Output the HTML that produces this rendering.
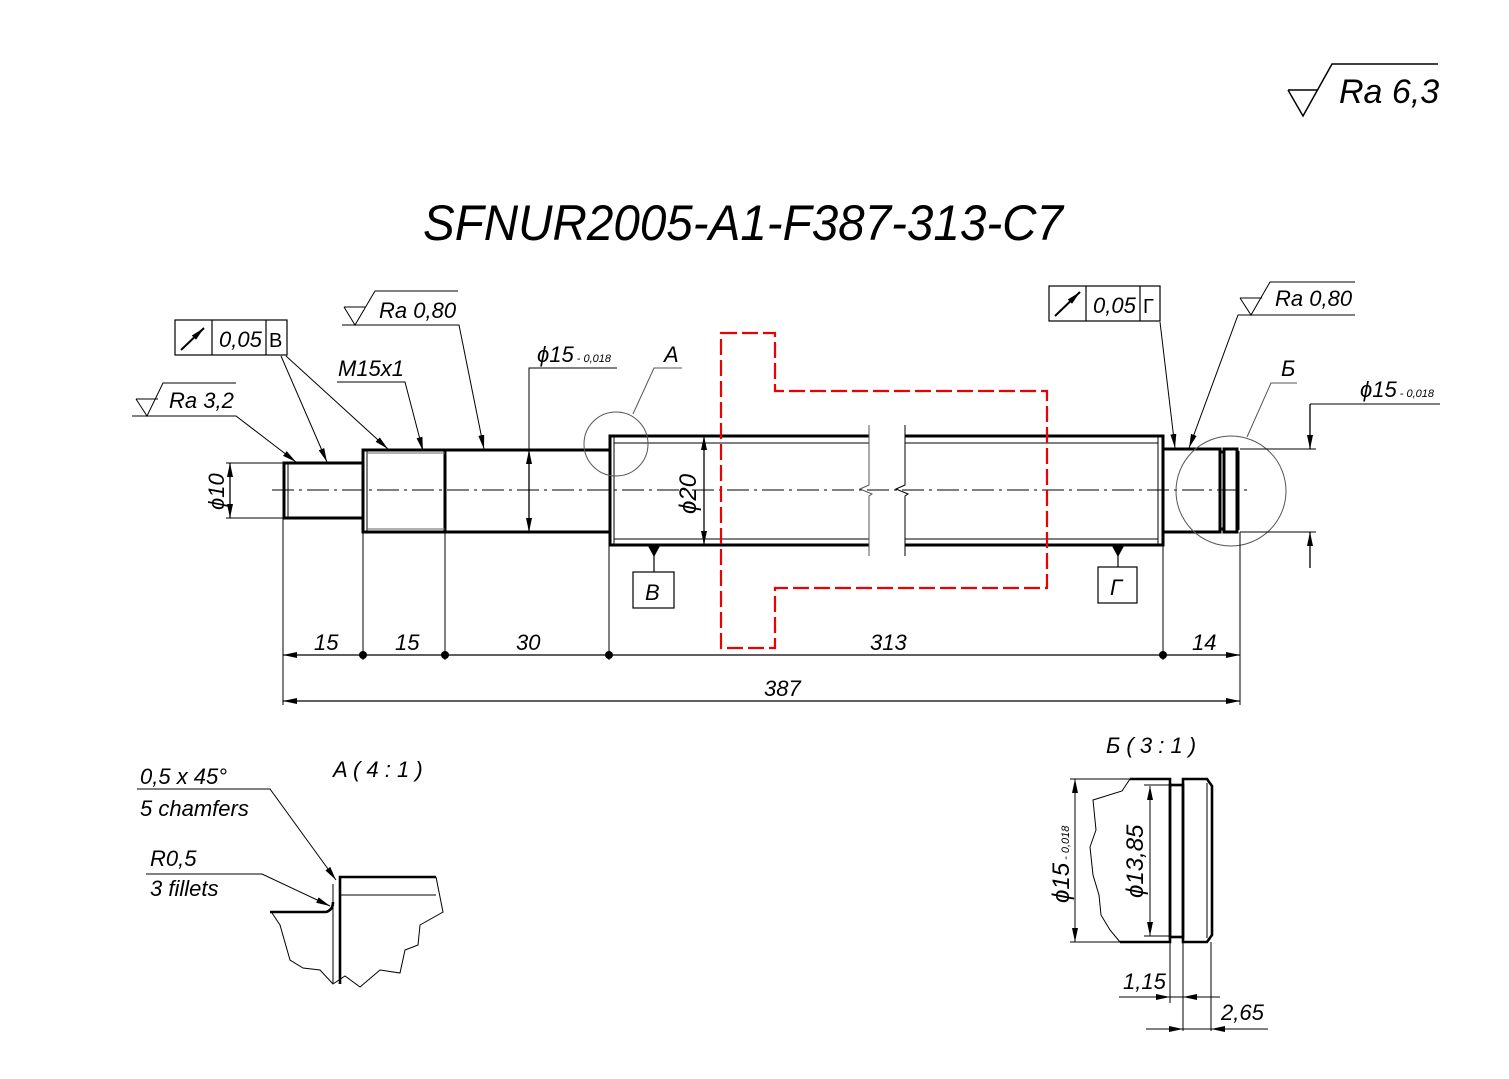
<!DOCTYPE html>
<html><head><meta charset="utf-8"><style>
html,body{margin:0;padding:0;background:#fff}
svg{display:block}
text{font-family:"Liberation Sans","DejaVu Sans",sans-serif;font-style:italic;fill:#000}
</style></head><body>
<svg width="1509" height="1079" viewBox="0 0 1509 1079" xmlns="http://www.w3.org/2000/svg">
<defs>
<marker id="ar" viewBox="0 0 14 6" refX="14" refY="3" markerWidth="14" markerHeight="6" orient="auto-start-reverse" markerUnits="userSpaceOnUse"><path d="M0,0L14,3L0,6Z" fill="#000"/></marker>
</defs>
<rect width="1509" height="1079" fill="#fff"/>

<g fill="none" stroke="#000" stroke-width="1.5">
<path d="M1288,90 L1318,90 M1288,90 L1303,116 L1332,64 L1438,64"/>
</g>
<text x="1339" y="103" font-size="34">Ra 6,3</text>

<text x="423" y="240" font-size="50" textLength="640" lengthAdjust="spacingAndGlyphs">SFNUR2005-A1-F387-313-C7</text>

<line x1="272" y1="490" x2="1250" y2="490" stroke="#000" stroke-width="1" stroke-dasharray="22,5,3,5"/>

<g fill="none" stroke="#000" stroke-width="3">
<rect x="284" y="463" width="79" height="55"/>
<rect x="363" y="450" width="82" height="82"/>
<rect x="445" y="450" width="165" height="82"/>
<path d="M869,436 L610,436 L610,545 L869,545"/>
<path d="M905,436 L1163,436 L1163,545 L905,545"/>
<rect x="1163" y="449" width="57" height="83"/>
<rect x="1220" y="452" width="4" height="77"/>
<rect x="1224" y="449" width="13" height="83"/>
</g>
<g fill="none" stroke="#000" stroke-width="1">
<line x1="288" y1="463" x2="288" y2="518"/>
<line x1="367" y1="450" x2="367" y2="532"/>
<line x1="367" y1="453" x2="445" y2="453" stroke="#666"/>
<line x1="367" y1="529" x2="445" y2="529" stroke="#666"/>
<line x1="614" y1="436" x2="614" y2="545"/>
<line x1="614" y1="443" x2="869" y2="443"/>
<line x1="614" y1="539" x2="869" y2="539"/>
<line x1="905" y1="443" x2="1158" y2="443"/>
<line x1="905" y1="539" x2="1158" y2="539"/>
<line x1="1158" y1="436" x2="1158" y2="545"/>
<line x1="1239" y1="451" x2="1239" y2="530"/>
<path d="M869,425 L869,485 L860,489 L872,494 L869,496 L869,556" stroke="#555"/>
<path d="M905,425 L905,485 L896,489 L908,494 L905,496 L905,556"/>
<circle cx="616" cy="444" r="32" stroke="#555"/>
<circle cx="1231" cy="491" r="55" stroke="#555"/>
</g>

<path d="M721,333 L775,333 L775,391 L1047,391 L1047,588 L775,588 L775,648 L721,648 Z" fill="none" stroke="#e00" stroke-width="2.2" stroke-dasharray="16,5"/>

<g stroke="#000" stroke-width="1">
<line x1="283" y1="518" x2="283" y2="705"/>
<line x1="363" y1="532" x2="363" y2="660"/>
<line x1="445" y1="532" x2="445" y2="660"/>
<line x1="609" y1="545" x2="609" y2="660"/>
<line x1="1163" y1="545" x2="1163" y2="660"/>
<line x1="1240" y1="532" x2="1240" y2="705"/>
<line x1="226" y1="463" x2="284" y2="463"/>
<line x1="226" y1="518" x2="284" y2="518"/>
<line x1="1240" y1="449" x2="1316" y2="449"/>
<line x1="1240" y1="532" x2="1316" y2="532"/>
</g>
<g stroke="#000" stroke-width="1.3" fill="none">
<line x1="283" y1="655" x2="1240" y2="655" marker-start="url(#ar)" marker-end="url(#ar)"/>
<line x1="283" y1="701" x2="1240" y2="701" marker-start="url(#ar)" marker-end="url(#ar)"/>
<line x1="230" y1="463" x2="230" y2="518" marker-start="url(#ar)" marker-end="url(#ar)"/>
<line x1="529" y1="450" x2="529" y2="532" marker-start="url(#ar)" marker-end="url(#ar)"/>
<polyline points="529,450 529,368 617,368" stroke-width="1"/>
<line x1="704" y1="436" x2="704" y2="545" marker-start="url(#ar)" marker-end="url(#ar)"/>
<line x1="1310" y1="404" x2="1310" y2="449" marker-end="url(#ar)"/>
<line x1="1310" y1="568" x2="1310" y2="532" marker-end="url(#ar)"/>
<line x1="1310" y1="404" x2="1440" y2="404" stroke-width="1"/>
</g>
<g fill="#000"><circle cx="363" cy="655" r="4"/><circle cx="445" cy="655" r="4"/><circle cx="609" cy="655" r="4"/><circle cx="1163" cy="655" r="4"/></g>
<g font-size="22">
<text x="314" y="650">15</text><text x="395" y="650">15</text><text x="516" y="650">30</text>
<text x="870" y="650">313</text><text x="1192" y="650">14</text><text x="764" y="696">387</text>
<text x="537" y="362">ϕ15<tspan font-size="11"> - 0,018</tspan></text>
<text x="1360" y="397">ϕ15<tspan font-size="11"> - 0,018</tspan></text>
<text transform="translate(224,510) rotate(-90)">ϕ10</text>
<text transform="translate(696,514) rotate(-90)" font-size="24">ϕ20</text>
<text x="664" y="362">A</text>
<text x="1281" y="376">Б</text>
<text x="338" y="376">M15x1</text>
</g>

<g fill="none" stroke="#000" stroke-width="1.2">
<line x1="654" y1="545" x2="654" y2="572"/><rect x="633" y="572" width="41" height="36"/>
<line x1="1118" y1="545" x2="1118" y2="567"/><rect x="1098" y="567" width="39" height="36"/>
</g>
<path d="M648,546 L660,546 L654,557Z M1112,546 L1124,546 L1118,557Z" fill="#000"/>
<text x="645" y="600" font-size="22">B</text>
<text x="1110" y="595" font-size="22">Г</text>

<g fill="none" stroke="#000" stroke-width="1.2">
<rect x="175" y="320" width="112" height="35"/><line x1="212" y1="320" x2="212" y2="355"/><line x1="266" y1="320" x2="266" y2="355"/>
<rect x="1049" y="286" width="111" height="35"/><line x1="1086" y1="286" x2="1086" y2="321"/><line x1="1140" y1="286" x2="1140" y2="321"/>
<line x1="181" y1="350" x2="204" y2="328" stroke-width="2" marker-end="url(#ar)"/>
<line x1="1055" y1="316" x2="1080" y2="292" stroke-width="2" marker-end="url(#ar)"/>
</g>
<text x="219" y="347" font-size="22">0,05</text><text x="269" y="347" font-size="20" style="font-style:normal">B</text>
<text x="1093" y="313" font-size="22">0,05</text><text x="1143" y="313" font-size="20" style="font-style:normal">Г</text>

<g fill="none" stroke="#000" stroke-width="1">
<line x1="281" y1="356" x2="327" y2="462" marker-end="url(#ar)"/>
<line x1="286" y1="356" x2="388" y2="449" marker-end="url(#ar)"/>
<line x1="1160" y1="322" x2="1175" y2="448" marker-end="url(#ar)"/>
<path d="M136,399 L158,399 M136,399 L147,416 L163,383 L236,383 M132,416 L236,416 L296,462" marker-end="url(#ar)"/>
<path d="M344,307 L366,307 M344,307 L355,325 L375,291 L458,291 M342,325 L459,325 L484,449" marker-end="url(#ar)"/>
<polyline points="337,382 405,382 423,451" marker-end="url(#ar)"/>
<path d="M1240,298 L1262,298 M1240,298 L1251,315 L1270,282 L1355,282 M1355,315 L1238,315 L1189,448" marker-end="url(#ar)"/>
<polyline points="633,414 654,368 682,368" stroke="#555"/>
<polyline points="1247,437 1271,383 1297,383" stroke="#555"/>
</g>
<text x="379" y="318" font-size="22">Ra 0,80</text>
<text x="169" y="408" font-size="22">Ra 3,2</text>
<text x="1275" y="306" font-size="22">Ra 0,80</text>

<text x="333" y="777" font-size="22">A ( 4 : 1 )</text>
<text x="140" y="784" font-size="22">0,5 x 45°</text>
<text x="140" y="816" font-size="22">5 chamfers</text>
<text x="150" y="866" font-size="22">R0,5</text>
<text x="150" y="896" font-size="22">3 fillets</text>
<g fill="none" stroke="#000" stroke-width="1">
<polyline points="137,789 270,789 336,880" marker-end="url(#ar)"/>
<polyline points="146,874 262,874 330,906" marker-end="url(#ar)"/>
<line x1="340" y1="895" x2="436" y2="895"/>
<path d="M333,884 L333,983"/>
<path d="M272,913 L280,925 L290,960 L303,968 L320,970 L333,984 L345,976 L360,987 L380,970 L400,973 L405,950 L418,945 L420,925 L443,912 L436,877"/>
</g>
<g fill="none" stroke="#000" stroke-width="2.6">
<path d="M436,877 L340,877 L340,984"/>
<path d="M270,912 L326,912 Q333,910 333,902"/>
</g>

<text x="1106" y="753" font-size="22">Б ( 3 : 1 )</text>
<g fill="none" stroke="#000" stroke-width="2.6">
<path d="M1130,779 L1170,779 L1170,942 L1120,942"/>
<rect x="1170" y="785" width="13" height="152"/>
<path d="M1183,779 L1207,779 L1212,786 L1212,935 L1207,942 L1183,942 Z"/>
</g>
<g fill="none" stroke="#000" stroke-width="1">
<line x1="1207" y1="783" x2="1207" y2="938"/>
<path d="M1130,779 L1122,791 L1093,800 L1096,830 L1090,847 L1093,875 L1099,895 L1101,915 L1110,930 L1120,942"/>
<line x1="1070" y1="779" x2="1130" y2="779"/>
<line x1="1070" y1="942" x2="1120" y2="942"/>
<line x1="1144" y1="785" x2="1170" y2="785"/>
<line x1="1144" y1="936" x2="1170" y2="936"/>
<line x1="1075" y1="779" x2="1075" y2="942" marker-start="url(#ar)" marker-end="url(#ar)"/>
<line x1="1150" y1="786" x2="1150" y2="936" marker-start="url(#ar)" marker-end="url(#ar)"/>
<line x1="1170" y1="942" x2="1170" y2="1003"/>
<line x1="1183" y1="942" x2="1183" y2="1031"/>
<line x1="1211" y1="942" x2="1211" y2="1031"/>
<line x1="1119" y1="997" x2="1220" y2="997"/>
<line x1="1150" y1="997" x2="1170" y2="997" marker-end="url(#ar)"/>
<line x1="1203" y1="997" x2="1183" y2="997" marker-end="url(#ar)"/>
<line x1="1146" y1="1029" x2="1268" y2="1029"/>
<line x1="1163" y1="1029" x2="1183" y2="1029" marker-end="url(#ar)"/>
<line x1="1231" y1="1029" x2="1211" y2="1029" marker-end="url(#ar)"/>
</g>
<text transform="translate(1069,903) rotate(-90)" font-size="24">ϕ15<tspan font-size="11"> - 0,018</tspan></text>
<text transform="translate(1143,898) rotate(-90)" font-size="24">ϕ13,85</text>
<text x="1123" y="989" font-size="22">1,15</text>
<text x="1221" y="1020" font-size="22">2,65</text>
</svg>
</body></html>
